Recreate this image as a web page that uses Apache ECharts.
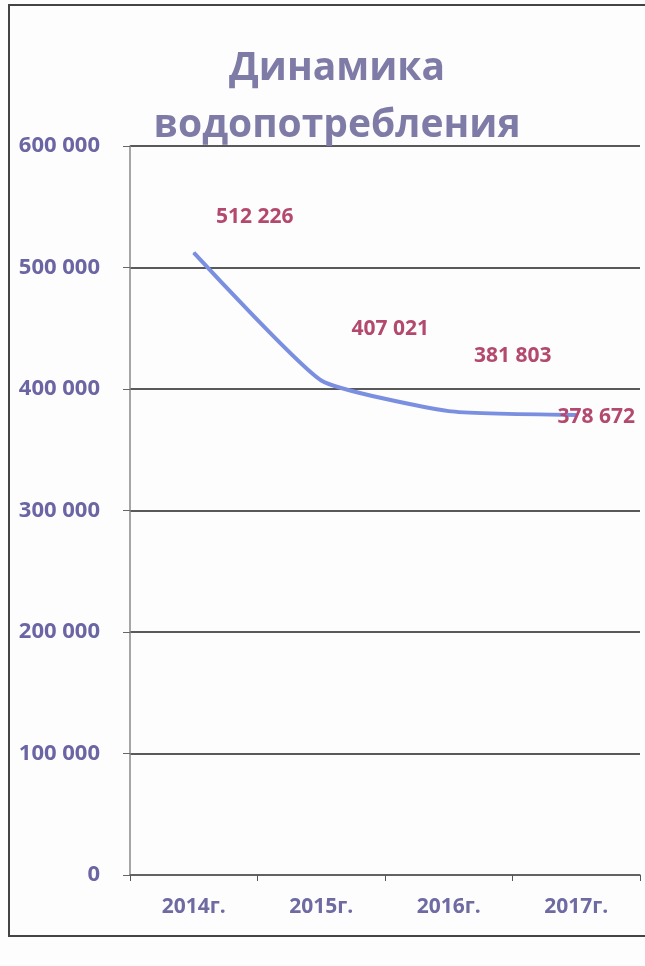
<!DOCTYPE html>
<html>
<head>
<meta charset="utf-8">
<script src="https://cdn.jsdelivr.net/npm/echarts@6/dist/echarts.min.js"></script>
<style>
  html, body { margin: 0; padding: 0; background: #fdfdfd; }
  #chart { width: 645px; height: 966px; }
</style>
</head>
<body>
<div id="chart"></div>
<script>
// Годы и объём водопотребления
const years = ['2014г.', '2015г.', '2016г.', '2017г.'];
const consumption = [512226, 407021, 381803, 378672];
const yTicks = [0, 100000, 200000, 300000, 400000, 500000, 600000];

// смещения подписей значений относительно точек
const labelOffsets = [[61, -20], [69, -35], [64, -39], [20, 18]];

const fmt = v => String(v).replace(/\B(?=(\d{3})+(?!\d))/g, ' ');

const chart = echarts.init(document.getElementById('chart'));
chart.setOption({
  backgroundColor: '#fdfdfd',
  animation: false,
  title: {
    text: 'Динамика\nводопотребления',
    left: 332,
    textAlign: 'center',
    top: 35,
    textStyle: {
      fontFamily: 'Open Sans',
      fontWeight: 'bold',
      fontSize: 39,
      lineHeight: 57,
      color: '#7f7ba7'
    }
  },
  graphic: [{
    type: 'polyline',
    shape: { points: [[645, 5], [9, 5], [9, 936], [645, 936]] },
    style: { stroke: '#444', lineWidth: 2, fill: null },
    silent: true
  }],
  grid: { left: 130, right: 5, top: 146, bottom: 91 },
  xAxis: {
    type: 'category',
    data: years,
    boundaryGap: true,
    axisLine: { lineStyle: { color: '#666', width: 1.5 } },
    axisTick: { show: true, length: 6, lineStyle: { color: '#555' } },
    axisLabel: {
      margin: 22,
      fontFamily: 'Open Sans',
      fontWeight: 'bold',
      fontSize: 21,
      color: '#6e6aa2'
    }
  },
  yAxis: {
    type: 'value',
    min: 0,
    max: 600000,
    interval: 100000,
    axisLine: { show: true, lineStyle: { color: '#888', width: 1.5 } },
    axisTick: { show: true, length: 7, lineStyle: { color: '#666' } },
    splitLine: { lineStyle: { color: '#222', width: 1.5 } },
    axisLabel: {
      margin: 30,
      fontFamily: 'Open Sans',
      fontWeight: 'bold',
      fontSize: 22,
      color: '#6b66a3',
      formatter: v => yTicks.includes(v) ? fmt(v) : ''
    }
  },
  series: [{
    type: 'line',
    data: consumption.map((v, i) => ({
      value: v,
      label: { offset: labelOffsets[i] }
    })),
    smooth: 0.15,
    symbol: 'circle',
    symbolSize: 1,
    itemStyle: { color: '#7a8fe0' },
    lineStyle: { color: '#7a8fe0', width: 4 },
    label: {
      show: true,
      position: 'top',
      fontFamily: 'Open Sans',
      fontSize: 21,
      fontWeight: 'bold',
      color: '#b4496f',
      formatter: p => fmt(p.value)
    }
  }]
});
</script>
</body>
</html>
